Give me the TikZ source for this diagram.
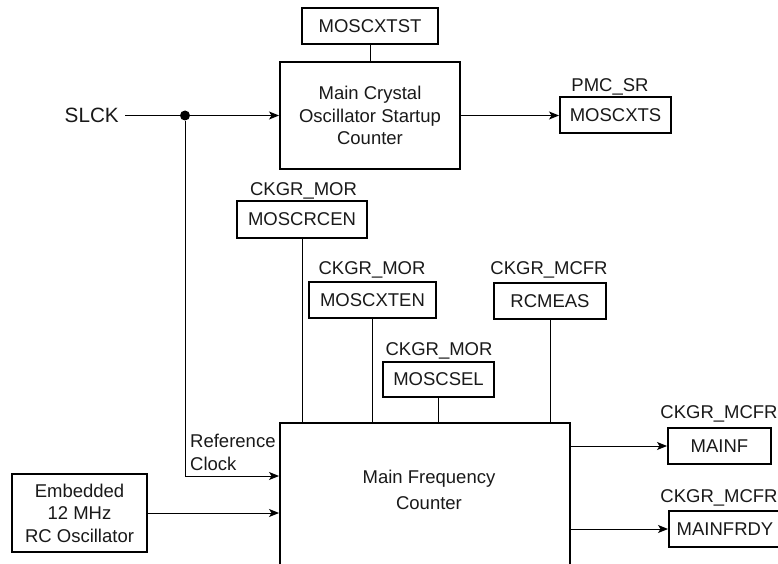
\documentclass[tikz,border=0pt]{standalone}
\usepackage{fontspec}
\setmainfont{Liberation Sans}
\usetikzlibrary{arrows.meta}
\begin{document}
\begin{tikzpicture}[x=1pt,y=-1pt,
  txt/.style={font=\fontsize{18.5}{22.5}\selectfont, text=black!90},
  reg/.style={txt, draw, line width=2pt, rectangle, inner sep=0pt},
  lbl/.style={txt, inner sep=0pt, text height=13.3pt, text depth=0pt},
  blk/.style={txt, draw, line width=2pt, inner sep=0pt, align=center},
  wire/.style={line width=1pt},
  arr/.style={wire, -{Stealth[length=10pt,width=8pt,inset=2.5pt]}}]
\useasboundingbox (0,0) rectangle (778,564);
\clip (0,0) rectangle (778,564);
% top: startup counter
\node[reg, minimum width=136pt, minimum height=36pt] (tst) at (370,26) {MOSCXTST};
\node[blk, minimum width=180pt, minimum height=107pt] (xtal) at (370,115.5) {Main Crystal\\Oscillator Startup\\Counter};
\node[lbl, font=\fontsize{20.7}{24}\selectfont, text height=14.8pt, anchor=east] (slck) at (119,115.5) {SLCK};
\node[circle, fill, inner sep=0pt, minimum size=10pt] (dot) at (185,115.5) {};
\node[lbl] (pmcsr) at (610,85) {PMC\_SR};
\node[reg, minimum width=111pt, minimum height=36pt] (xts) at (615.5,115.5) {MOSCXTS};
\draw[wire] (tst.south) -- (tst.south |- xtal.north);
\draw[arr] ([xshift=6pt]slck.east) -- (xtal.west);
\draw[arr] (xtal.east) -- (xts.west);
% register fields
\node[lbl] (mor1) at (303.5,189) {CKGR\_MOR};
\node[reg, minimum width=130pt, minimum height=37pt] (rcen) at (302,219.5) {MOSCRCEN};
\node[lbl] (mor2) at (372,268) {CKGR\_MOR};
\node[reg, minimum width=127pt, minimum height=36pt] (xten) at (372.5,300) {MOSCXTEN};
\node[lbl] (mor3) at (439,349) {CKGR\_MOR};
\node[reg, minimum width=111pt, minimum height=35pt] (sel) at (438.5,379.5) {MOSCSEL};
\node[lbl] (mcfr1) at (549,268) {CKGR\_MCFR};
\node[reg, minimum width=112pt, minimum height=36pt] (meas) at (550,301) {RCMEAS};
% main frequency counter
\node[draw, line width=2pt, minimum width=290pt, minimum height=190pt, anchor=north] (mfc) at (425,422) {};
\node[txt, align=center, inner sep=0pt, font=\fontsize{18.5}{25.5}\selectfont] (mfctxt) at (429,490) {Main Frequency\\Counter};
\draw[wire] (rcen.south) -- (rcen.south |- mfc.north);
\draw[wire] (xten.south) -- (xten.south |- mfc.north);
\draw[wire] (sel.south) -- (sel.south |- mfc.north);
\draw[wire] (meas.south) -- (meas.south |- mfc.north);
% reference clock
\coordinate (refy) at (0,476);
\draw[arr] (dot) |- (mfc.west |- refy);
\node[txt, anchor=west, align=left, inner sep=0pt] (refl) at (190,452.5) {Reference\\Clock};
% embedded RC
\node[blk, minimum width=135pt, minimum height=78pt] (emb) at (79.5,513) {Embedded\\12 MHz\\RC Oscillator};
\draw[arr] (emb.east) -- (emb.east -| mfc.west);
% outputs
\node[lbl] (mcfr2) at (719,412) {CKGR\_MCFR};
\node[reg, minimum width=103pt, minimum height=36pt] (mainf) at (719.5,446) {MAINF};
\draw[arr] (mainf.west -| mfc.east) -- (mainf.west);
\node[lbl] (mcfr3) at (719,496) {CKGR\_MCFR};
\node[reg, minimum width=112pt, minimum height=36pt] (frdy) at (725,529) {MAINFRDY};
\draw[arr] (frdy.west -| mfc.east) -- (frdy.west);
\end{tikzpicture}
\end{document}
